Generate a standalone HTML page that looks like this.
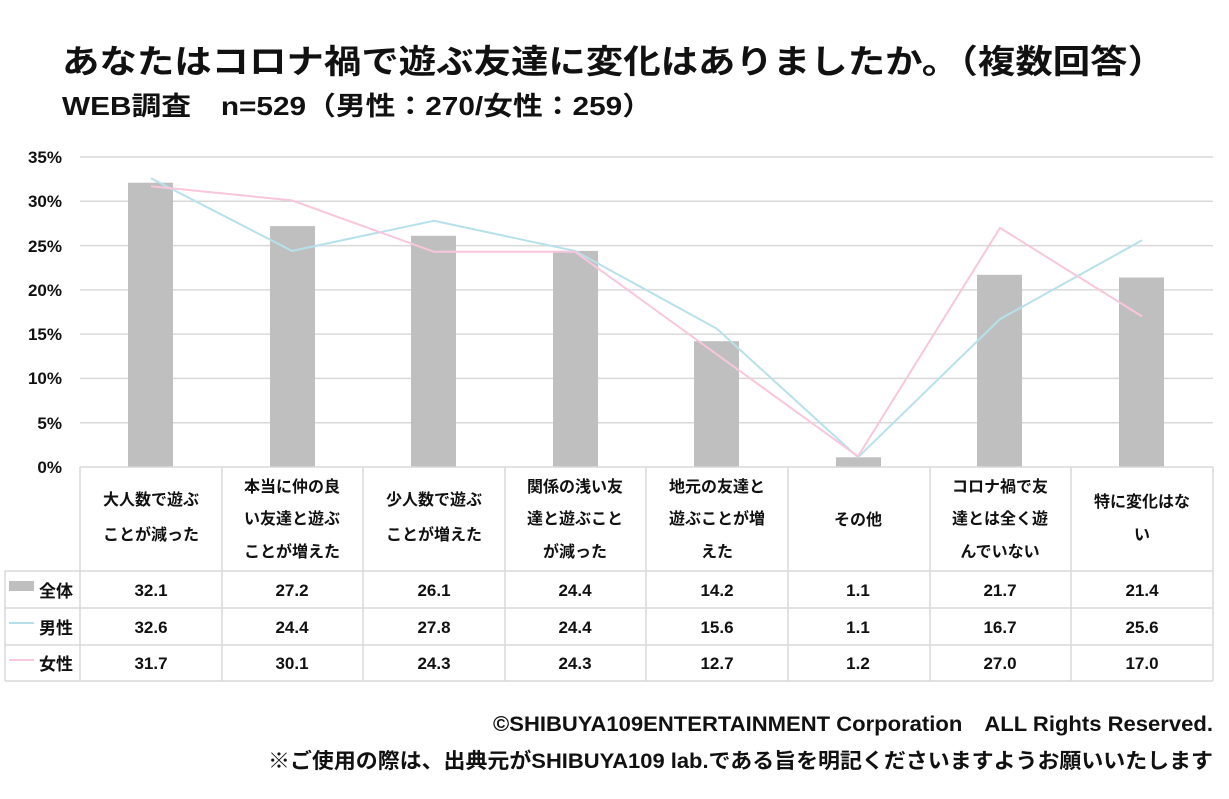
<!DOCTYPE html>
<html><head><meta charset="utf-8"><style>
html,body{margin:0;padding:0;background:#fff;}
svg{display:block;}
text{font-family:"Liberation Sans","Noto Sans CJK JP",sans-serif;fill:#111;}
</style></head><body>
<svg width="1229" height="799" viewBox="0 0 1229 799" xmlns="http://www.w3.org/2000/svg">
<text x="62" y="73" font-size="33" font-weight="bold" textLength="1103" lengthAdjust="spacingAndGlyphs">あなたはコロナ禍で遊ぶ友達に変化はありましたか。（複数回答）</text>
<text x="62" y="115" font-size="26" font-weight="bold" textLength="590" lengthAdjust="spacingAndGlyphs">WEB調査　n=529（男性：270/女性：259）</text>
<!-- grid -->
<g stroke="#d9d9d9" stroke-width="1.5">
<line x1="80" x2="1213" y1="157" y2="157"/>
<line x1="80" x2="1213" y1="201.3" y2="201.3"/>
<line x1="80" x2="1213" y1="245.6" y2="245.6"/>
<line x1="80" x2="1213" y1="289.9" y2="289.9"/>
<line x1="80" x2="1213" y1="334.1" y2="334.1"/>
<line x1="80" x2="1213" y1="378.4" y2="378.4"/>
<line x1="80" x2="1213" y1="422.7" y2="422.7"/>
</g>
<g font-size="17" font-weight="bold" text-anchor="end">
<text x="62" y="163">35%</text><text x="62" y="207">30%</text><text x="62" y="252">25%</text>
<text x="62" y="296">20%</text><text x="62" y="340">15%</text><text x="62" y="384">10%</text>
<text x="62" y="429">5%</text><text x="62" y="473">0%</text>
</g>
<g fill="#bfbfbf">
<rect x="128" y="182.7" width="45" height="284.3"/>
<rect x="270" y="226.1" width="45" height="240.9"/>
<rect x="411" y="235.8" width="45" height="231.2"/>
<rect x="553" y="250.9" width="45" height="216.1"/>
<rect x="694" y="341.2" width="45" height="125.8"/>
<rect x="836" y="457.3" width="45" height="9.7"/>
<rect x="977" y="274.8" width="45" height="192.2"/>
<rect x="1119" y="277.5" width="45" height="189.5"/>
</g>
<polyline fill="none" stroke="#b7e1ea" stroke-width="2" points="151,178.3 292,250.9 434,220.8 575,250.9 717,328.8 858,457.3 1000,319.1 1142,240.3"/>
<polyline fill="none" stroke="#f9c6dc" stroke-width="2" points="151,186.2 292,200.4 434,251.8 575,251.8 717,354.5 858,456.4 1000,227.9 1142,316.4"/>
<!-- table -->
<g stroke="#d9d9d9" stroke-width="1.5" fill="none">
<line x1="80" x2="1213" y1="467" y2="467"/>
<line x1="5" x2="1213" y1="571" y2="571"/>
<line x1="5" x2="1213" y1="608" y2="608"/>
<line x1="5" x2="1213" y1="645" y2="645"/>
<line x1="5" x2="1213" y1="681" y2="681"/>
<line x1="5" x2="5" y1="571" y2="681"/>
<line x1="80" x2="80" y1="467" y2="681"/>
<line x1="222" x2="222" y1="467" y2="681"/>
<line x1="363" x2="363" y1="467" y2="681"/>
<line x1="505" x2="505" y1="467" y2="681"/>
<line x1="646" x2="646" y1="467" y2="681"/>
<line x1="788" x2="788" y1="467" y2="681"/>
<line x1="930" x2="930" y1="467" y2="681"/>
<line x1="1071" x2="1071" y1="467" y2="681"/>
<line x1="1213" x2="1213" y1="467" y2="681"/>
</g>
<g font-size="16" font-weight="bold" text-anchor="middle">
<text x="151" y="505">大人数で遊ぶ</text><text x="151" y="540">ことが減った</text>
<text x="292" y="492">本当に仲の良</text><text x="292" y="524">い友達と遊ぶ</text><text x="292" y="557">ことが増えた</text>
<text x="434" y="505">少人数で遊ぶ</text><text x="434" y="540">ことが増えた</text>
<text x="575" y="492">関係の浅い友</text><text x="575" y="524">達と遊ぶこと</text><text x="575" y="557">が減った</text>
<text x="717" y="492">地元の友達と</text><text x="717" y="524">遊ぶことが増</text><text x="717" y="557">えた</text>
<text x="858" y="525">その他</text>
<text x="1000" y="492">コロナ禍で友</text><text x="1000" y="524">達とは全く遊</text><text x="1000" y="557">んでいない</text>
<text x="1142" y="507">特に変化はな</text><text x="1142" y="540">い</text>
</g>
<rect x="9" y="581" width="25" height="10" fill="#bfbfbf"/>
<line x1="9" x2="34" y1="623" y2="623" stroke="#b7e1ea" stroke-width="2"/>
<line x1="9" x2="34" y1="660" y2="660" stroke="#f9c6dc" stroke-width="2"/>
<g font-size="17" font-weight="bold">
<text x="39" y="597">全体</text><text x="39" y="634">男性</text><text x="39" y="670">女性</text>
</g>
<g font-size="17" font-weight="bold" text-anchor="middle">
<text x="151" y="596">32.1</text><text x="292" y="596">27.2</text><text x="434" y="596">26.1</text><text x="575" y="596">24.4</text><text x="717" y="596">14.2</text><text x="858" y="596">1.1</text><text x="1000" y="596">21.7</text><text x="1142" y="596">21.4</text>
<text x="151" y="633">32.6</text><text x="292" y="633">24.4</text><text x="434" y="633">27.8</text><text x="575" y="633">24.4</text><text x="717" y="633">15.6</text><text x="858" y="633">1.1</text><text x="1000" y="633">16.7</text><text x="1142" y="633">25.6</text>
<text x="151" y="669">31.7</text><text x="292" y="669">30.1</text><text x="434" y="669">24.3</text><text x="575" y="669">24.3</text><text x="717" y="669">12.7</text><text x="858" y="669">1.2</text><text x="1000" y="669">27.0</text><text x="1142" y="669">17.0</text>
</g>
<text x="493" y="731" font-size="21" font-weight="bold" textLength="720" lengthAdjust="spacingAndGlyphs">©SHIBUYA109ENTERTAINMENT Corporation　ALL Rights Reserved.</text>
<text x="268" y="768" font-size="21" font-weight="bold" textLength="945" lengthAdjust="spacingAndGlyphs">※ご使用の際は、出典元がSHIBUYA109 lab.である旨を明記くださいますようお願いいたします</text>
</svg>
</body></html>
